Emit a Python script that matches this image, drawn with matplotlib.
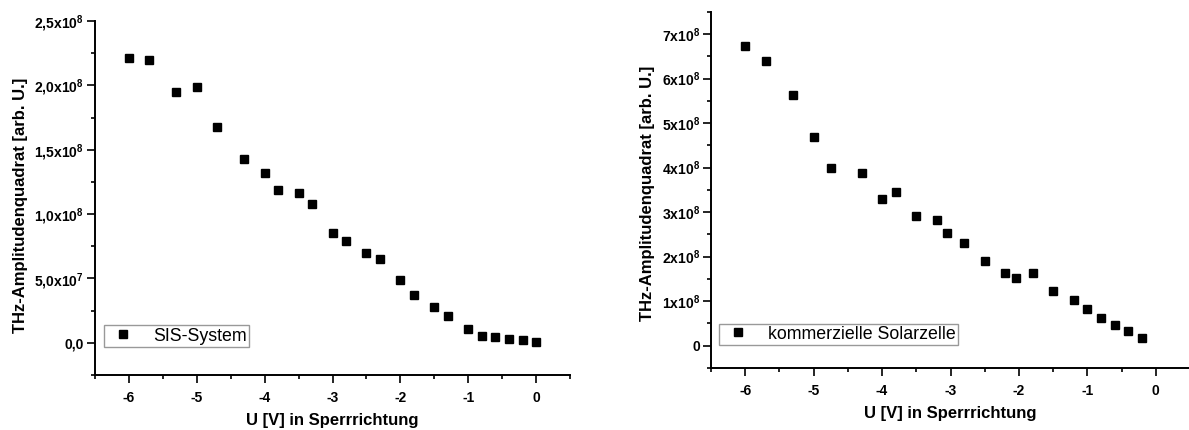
import numpy as np
import matplotlib
matplotlib.use("Agg")
import matplotlib.pyplot as plt
from matplotlib.ticker import FixedLocator, MultipleLocator

plt.rcParams['font.family'] = ['Liberation Sans', 'DejaVu Sans']
plt.rcParams['mathtext.default'] = 'regular'

# SIS-System
u_sis = [-6.0, -5.7, -5.3, -5.0, -4.7, -4.3, -4.0, -3.8, -3.5, -3.3, -3.0, -2.8,
         -2.5, -2.3, -2.0, -1.8, -1.5, -1.3, -1.0, -0.8, -0.6, -0.4, -0.2, 0.0]
amp_sis = [2.21e8, 2.20e8, 1.95e8, 1.99e8, 1.68e8, 1.43e8, 1.32e8, 1.19e8, 1.16e8,
           1.08e8, 8.5e7, 7.9e7, 7.0e7, 6.5e7, 4.9e7, 3.7e7, 2.8e7, 2.05e7, 1.05e7,
           5.1e6, 4.4e6, 2.8e6, 2.0e6, 8e5]

# kommerzielle Solarzelle
u_sol = [-6.0, -5.7, -5.3, -5.0, -4.75, -4.3, -4.0, -3.8, -3.5, -3.2, -3.05, -2.8,
         -2.5, -2.2, -2.05, -1.8, -1.5, -1.2, -1.0, -0.8, -0.6, -0.4, -0.2]
amp_sol = [6.72e8, 6.39e8, 5.62e8, 4.68e8, 3.99e8, 3.88e8, 3.30e8, 3.45e8, 2.91e8,
           2.82e8, 2.53e8, 2.30e8, 1.90e8, 1.63e8, 1.52e8, 1.63e8, 1.22e8, 1.03e8,
           8.3e7, 6.3e7, 4.6e7, 3.3e7, 1.8e7]

ticks_sis = [0, 5e7, 1e8, 1.5e8, 2e8, 2.5e8]
labels_sis = ['0,0', '5,0x$10^{7}$', '1,0x$10^{8}$', '1,5x$10^{8}$',
              '2,0x$10^{8}$', '2,5x$10^{8}$']
ticks_sol = [0, 1e8, 2e8, 3e8, 4e8, 5e8, 6e8, 7e8]
labels_sol = ['0'] + ['%dx$10^{8}$' % i for i in range(1, 8)]

fig = plt.figure(figsize=(11.89, 4.30), dpi=100)
ax1 = fig.add_axes([95/1189, 1-375/430, 475/1189, 354/430])
ax2 = fig.add_axes([711/1189, 1-368/430, 479/1189, 356.3/430])


def style(ax, yticks, ylabels, ylim, yminor, legend_label, x, y):
    ax.plot(x, y, 's', color='black', markersize=5.4, linestyle='none',
            label=legend_label)
    ax.set_xlim(-6.5, 0.5)
    ax.set_ylim(*ylim)
    ax.xaxis.set_major_locator(MultipleLocator(1))
    ax.xaxis.set_minor_locator(MultipleLocator(0.5))
    ax.yaxis.set_major_locator(FixedLocator(yticks))
    ax.yaxis.set_minor_locator(MultipleLocator(yminor))
    ax.set_yticklabels(ylabels)
    ax.set_xticks([-6, -5, -4, -3, -2, -1, 0])
    ax.set_xticklabels(['-6', '-5', '-4', '-3', '-2', '-1', '0'])
    for s in ['top', 'right']:
        ax.spines[s].set_visible(False)
    for s in ['left', 'bottom']:
        ax.spines[s].set_linewidth(1.4)
    ax.tick_params(which='major', direction='out', length=5.5, width=1.2,
                   labelsize=10, pad=2.5)
    ax.tick_params(which='minor', direction='out', length=3.2, width=1.2)
    ax.tick_params(axis='x', pad=6)
    for lab in ax.get_xticklabels() + ax.get_yticklabels():
        lab.set_fontweight('bold')
    ax.set_xlabel('U [V] in Sperrrichtung', fontsize=12, fontweight='bold',
                  labelpad=5.5)
    ax.set_ylabel('THz-Amplitudenquadrat [arb. U.]', fontsize=12,
                  fontweight='bold')


style(ax1, ticks_sis, labels_sis, (-2.5e7, 2.5e8), 2.5e7, 'SIS-System',
      u_sis, amp_sis)
style(ax2, ticks_sol, labels_sol, (-5e7, 7.5e8), 5e7, 'kommerzielle Solarzelle',
      u_sol, amp_sol)

ax1.yaxis.set_label_coords(-0.141, 0.48)
ax2.yaxis.set_label_coords(-0.117, 0.49)

for ax, anchor in [(ax1, (0.019, 0.08)), (ax2, (0.017, 0.065))]:
    leg = ax.legend(loc='lower left', bbox_to_anchor=anchor, fontsize=12.8,
                    frameon=True, fancybox=False, borderpad=0.12,
                    handletextpad=0.75, handlelength=1.9, borderaxespad=0,
                    markerscale=1.0)
    leg.get_frame().set_edgecolor('#808080')
    leg.get_frame().set_linewidth(1.0)

plt.savefig('out.png', dpi=100)
